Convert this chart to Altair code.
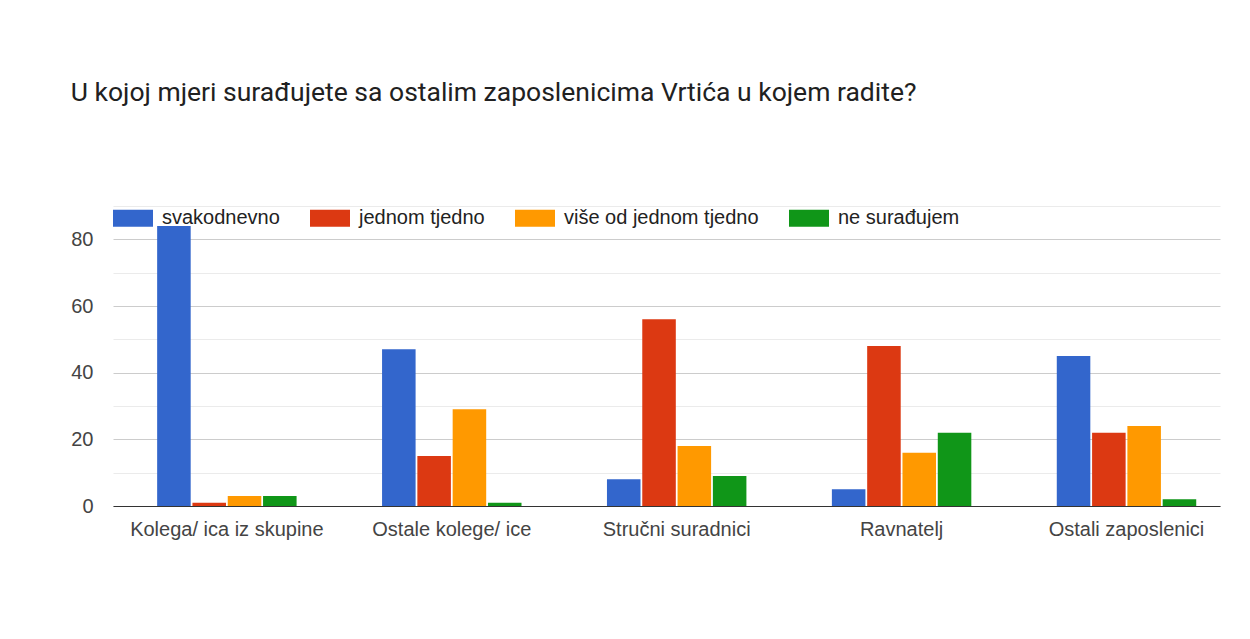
import altair as alt
import pandas as pd

categories = ["Kolega/ ica iz skupine", "Ostale kolege/ ice", "Stručni suradnici", "Ravnatelj", "Ostali zaposlenici"]
series = ["svakodnevno", "jednom tjedno", "više od jednom tjedno", "ne surađujem"]
svakodnevno = [84, 47, 8, 5, 45]
jednom_tjedno = [1, 15, 56, 48, 22]
vise_od_jednom_tjedno = [3, 29, 18, 16, 24]
ne_suradujem = [3, 1, 9, 22, 2]
colors = ["#3366cc", "#dc3912", "#ff9900", "#109618"]
y_ticks = [0, 10, 20, 30, 40, 50, 60, 70, 80, 90]
title_text = "U kojoj mjeri surađujete sa ostalim zaposlenicima Vrtića u kojem radite?"

rows = []
for s, vals in zip(series, [svakodnevno, jednom_tjedno, vise_od_jednom_tjedno, ne_suradujem]):
    for c, v in zip(categories, vals):
        rows.append({"kategorija": c, "odgovor": s, "broj": v})
df = pd.DataFrame(rows)

chart = alt.Chart(df).mark_bar().encode(
    x=alt.X(
        "kategorija:N", sort=categories, title=None,
        scale=alt.Scale(paddingInner=0.38, paddingOuter=0.151, align=0.65),
        axis=alt.Axis(labelAngle=0, labelFont="Liberation Sans", labelFontSize=20,
                      labelColor="#444444", labelPadding=13, ticks=False, labelLimit=0,
                      domainColor="#333333", domainWidth=1, grid=False),
    ),
    xOffset=alt.XOffset("odgovor:N", sort=series, scale=alt.Scale(paddingInner=0.05)),
    y=alt.Y(
        "broj:Q", title=None,
        scale=alt.Scale(domain=[0, 90], nice=False),
        axis=alt.Axis(values=y_ticks,
                      labelExpr="datum.value % 20 === 0 ? datum.label : ''",
                      gridColor={"condition": {"test": "datum.value % 20 === 0", "value": "#cccccc"},
                                 "value": "#ebebeb"},
                      domain=False, ticks=False, labelPadding=20,
                      labelFont="Liberation Sans", labelFontSize=20, labelColor="#444444"),
    ),
    color=alt.Color(
        "odgovor:N", sort=series,
        scale=alt.Scale(domain=series, range=colors),
        legend=alt.Legend(title=None, orient="none", legendX=0, legendY=-7.7,
                          direction="horizontal", columns=4,
                          symbolType="M-1,-0.425H1V0.425H-1Z", symbolSize=1600,
                          symbolStrokeWidth=0, symbolOpacity=1, labelLimit=0,
                          labelFont="Liberation Sans", labelFontSize=20, labelColor="#222222",
                          labelOffset=9, columnPadding=30, padding=0),
    ),
).properties(
    width=1107,
    height=300,
    title=alt.Title(title_text, anchor="start", frame="bounds", font="Roboto",
                    fontSize=26.5, fontWeight="normal", color="#212121", offset=92),
    padding={"top": 71, "left": 62, "right": 10, "bottom": 10},
).configure_view(stroke=None)

chart.save("out.html", embed_options={"renderer": "svg", "actions": False})
